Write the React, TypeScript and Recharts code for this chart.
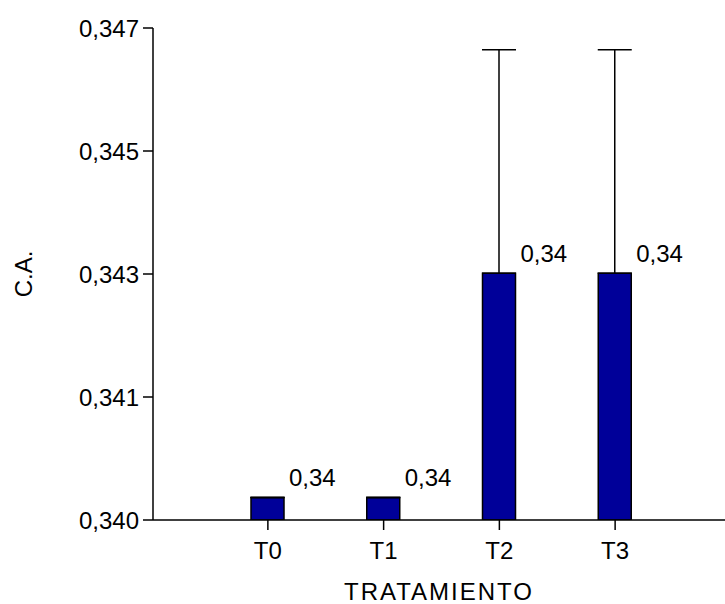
import { BarChart, Bar, XAxis, YAxis, ErrorBar, LabelList, Label } from 'recharts';

// datos
const categories = ['T0', 'T1', 'T2', 'T3'];
const meanValues = [0.34032, 0.34032, 0.34351, 0.34351];
const upperErrors = [0, 0, 0.00318, 0.00318];
const yTicks = [0.34, 0.34175, 0.3435, 0.34525, 0.347];
const yTickLabels = ['0,340', '0,341', '0,343', '0,345', '0,347'];

const FONT = '"Liberation Sans", Arial, sans-serif';
const BAR_FILL = '#000099';

const chartData = categories.map((c, i) => ({
  name: c,
  value: meanValues[i],
  err: [0, upperErrors[i]],
}));

function ValueLabel(props: any) {
  const { x, y, width, value } = props;
  return (
    <text
      x={Number(x) + Number(width) + 5}
      y={Number(y) - 20}
      dominantBaseline="central"
      fontFamily={FONT}
      fontSize={24}
      fill="#000"
    >
      {Number(value).toFixed(2).replace('.', ',')}
    </text>
  );
}

function YTitle(props: any) {
  const vb = props.viewBox ?? { x: 0, y: 0, width: 0, height: 0 };
  const cx = vb.x + 23;
  const cy = vb.y + vb.height / 2;
  return (
    <text
      x={cx}
      y={cy}
      transform={`rotate(-90 ${cx} ${cy})`}
      textAnchor="middle"
      dominantBaseline="central"
      fontFamily={FONT}
      fontSize={24}
      fill="#000"
    >
      C.A.
    </text>
  );
}

export default function App() {
  return (
    <div style={{ position: 'absolute', left: 0, top: 0, background: '#fff' }}>
      <BarChart
        width={725}
        height={604}
        data={chartData}
        margin={{ top: 28, right: 0, bottom: 0, left: 0 }}
      >
        <XAxis
          dataKey="name"
          height={84}
          padding={{ left: 57, right: 52 }}
          axisLine={{ stroke: '#000', strokeWidth: 1.5 }}
          tickLine={{ stroke: '#000', strokeWidth: 1.5 }}
          tickSize={10}
          tickMargin={12}
          tick={{ fill: '#000', fontSize: 24, fontFamily: FONT }}
        >
          <Label
            value="TRATAMIENTO"
            position="insideBottom"
            offset={4}
            style={{ fill: '#000', fontSize: 24, fontFamily: FONT, letterSpacing: 2 }}
          />
        </XAxis>
        <YAxis
          width={153}
          domain={[0.34, 0.347]}
          ticks={yTicks}
          allowDataOverflow
          interval={0}
          tickFormatter={(_v: number, i: number) => yTickLabels[i]}
          axisLine={{ stroke: '#000', strokeWidth: 1.5 }}
          tickLine={{ stroke: '#000', strokeWidth: 1.5 }}
          tickSize={10}
          tickMargin={4}
          tick={{ fill: '#000', fontSize: 24, fontFamily: FONT }}
        >
          <Label content={<YTitle />} />
        </YAxis>
        <Bar
          dataKey="value"
          barSize={33}
          fill={BAR_FILL}
          stroke="#000"
          strokeWidth={1.5}
          isAnimationActive={false}
        >
          <ErrorBar
            dataKey="err"
            direction="y"
            width={17}
            stroke="#000"
            strokeWidth={1.5}
            isAnimationActive={false}
          />
          <LabelList dataKey="value" content={<ValueLabel />} />
        </Bar>
      </BarChart>
    </div>
  );
}
